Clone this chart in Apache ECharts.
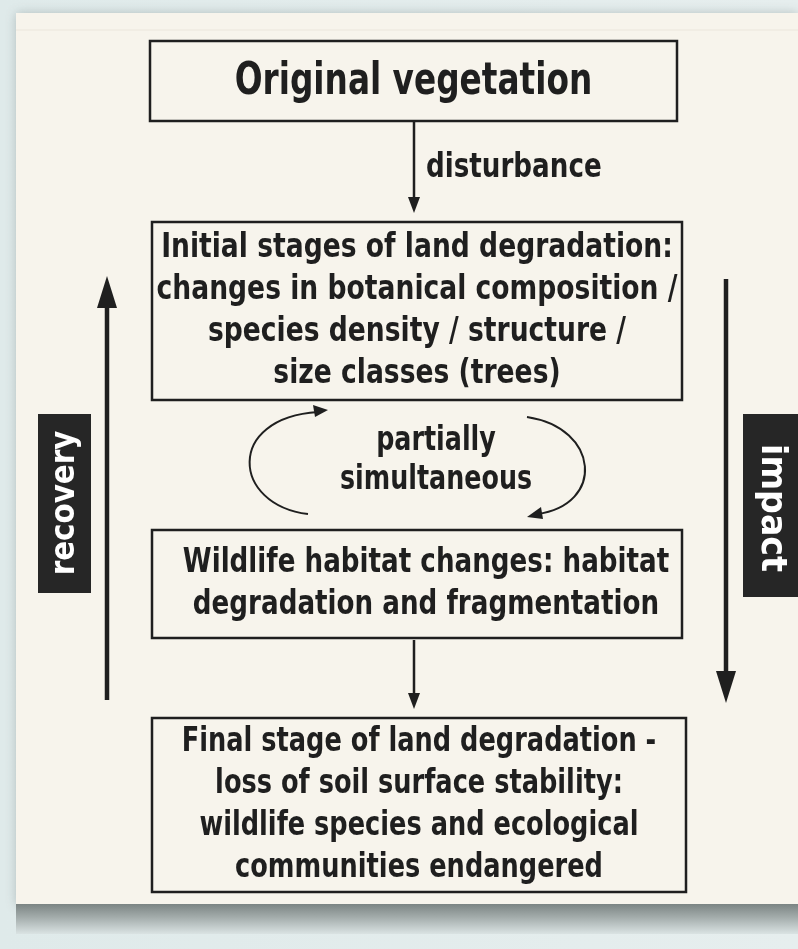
<!DOCTYPE html>
<html>
<head>
<meta charset="utf-8">
<script src="https://cdn.jsdelivr.net/npm/echarts@6/dist/echarts.min.js"></script>
<style>
html,body{margin:0;padding:0;background:#e4eded;}
#c{width:798px;height:949px;}
</style>
</head>
<body>
<div id="c"></div>
<script>
// ---- content ----
const boxTexts = [
  "Original vegetation",
  "Initial stages of land degradation:\nchanges in botanical composition /\nspecies density / structure /\nsize classes (trees)",
  "Wildlife habitat changes: habitat\ndegradation and fragmentation",
  "Final stage of land degradation -\nloss of soil surface stability:\nwildlife species and ecological\ncommunities endangered"
];
const arrowLabels = ["disturbance"];
const cycleLabel = "partially\nsimultaneous";
const sideLabels = ["recovery", "impact"];

// ---- layout ----
const FONT = '"Liberation Sans Narrow","DejaVu Sans Condensed","Roboto Condensed",sans-serif';
const INK = '#1f1f1f';
const PAPER = '#f7f4ec';
const boxRects = [
  {x:150, y:41, w:527, h:80, fs:40, lh:48, sx:0.91, sy:1.1, dx:0, dy:2},
  {x:152, y:222, w:530, h:178, fs:30, lh:37.5, sx:0.985, sy:1.12, dx:0, dy:0},
  {x:152, y:530, w:530, h:108, fs:30, lh:37.5, sx:0.97, sy:1.12, dx:9, dy:0},
  {x:152, y:718, w:534, h:174, fs:30, lh:37.5, sx:0.95, sy:1.12, dx:0, dy:0}
];

const chart = echarts.init(document.getElementById('c'), null, {renderer:'canvas'});
const g = [];

// background + paper
g.push({type:'rect', shape:{x:0,y:0,width:798,height:949},
  style:{fill:{type:'linear',x:0,y:0,x2:1,y2:0,colorStops:[{offset:0,color:'#dfeaea'},{offset:1,color:'#e6eeee'}]}}, z:0});
g.push({type:'rect', shape:{x:16,y:13,width:782,height:892},
  style:{fill:PAPER, shadowBlur:10, shadowColor:'rgba(120,135,135,0.45)', shadowOffsetX:0, shadowOffsetY:0}, z:1});
// bottom shadow
g.push({type:'rect', shape:{x:16,y:904,width:782,height:30},
  style:{fill:{type:'linear',x:0,y:0,x2:0,y2:1,colorStops:[{offset:0,color:'#7b8483'},{offset:0.45,color:'#a4adac'},{offset:1,color:'#dae3e3'}]}}, z:2});
// faint fold line near top
g.push({type:'line', shape:{x1:16,y1:30,x2:798,y2:30}, style:{stroke:'#ebe6dc',lineWidth:1}, z:2});

// boxes
boxTexts.forEach((t, i) => {
  const r = boxRects[i];
  g.push({type:'rect', shape:{x:r.x, y:r.y, width:r.w, height:r.h},
    style:{fill:PAPER, stroke:INK, lineWidth:2.5}, z:5});
  g.push({type:'text', x:r.x + r.w/2 + r.dx, y:r.y + r.h/2 + r.dy, scaleX:r.sx, scaleY:r.sy, z:6,
    style:{text:t, font:'bold '+r.fs+'px '+FONT, fill:INK, lineHeight:r.lh, align:'center', verticalAlign:'middle'}});
});

function arrowDown(x, y1, y2, lw, hw, hl) {
  g.push({type:'line', shape:{x1:x,y1:y1,x2:x,y2:y2-hl+2}, style:{stroke:INK,lineWidth:lw}, z:5});
  g.push({type:'polygon', shape:{points:[[x-hw,y2-hl],[x+hw,y2-hl],[x,y2]]}, style:{fill:INK}, z:5});
}
function arrowUp(x, y1, y2, lw, hw, hl) { // y1 bottom, y2 tip
  g.push({type:'line', shape:{x1:x,y1:y1,x2:x,y2:y2+hl-2}, style:{stroke:INK,lineWidth:lw}, z:5});
  g.push({type:'polygon', shape:{points:[[x-hw,y2+hl],[x+hw,y2+hl],[x,y2]]}, style:{fill:INK}, z:5});
}

// disturbance arrow
arrowDown(414, 122, 213, 2.5, 6, 16);
g.push({type:'text', x:426, y:168, scaleX:0.97, scaleY:1.1, z:6,
  style:{text:arrowLabels[0], font:'bold 30px '+FONT, fill:INK, align:'left', verticalAlign:'middle'}});
// wildlife -> final arrow
arrowDown(414, 640, 709, 2.5, 6, 16);

// recovery / impact arrows
arrowUp(107, 700, 276, 4.5, 10, 32);
arrowDown(726, 279, 703, 4.5, 10, 32);

// side labels
g.push({type:'rect', shape:{x:38,y:414,width:53,height:179}, style:{fill:'#262626'}, z:6});
g.push({type:'text', x:65, y:503, rotation:Math.PI/2, scaleX:1.02, scaleY:1.05, z:7,
  style:{text:sideLabels[0], font:'bold 32px '+FONT, fill:'#ffffff', align:'center', verticalAlign:'middle'}});
g.push({type:'rect', shape:{x:743,y:414,width:60,height:183}, style:{fill:'#262626'}, z:6});
g.push({type:'text', x:771, y:508, rotation:-Math.PI/2, scaleX:1.12, scaleY:1.05, z:7,
  style:{text:sideLabels[1], font:'bold 33px '+FONT, fill:'#ffffff', align:'center', verticalAlign:'middle'}});

// cycle arrows
g.push({type:'bezierCurve', shape:{x1:308,y1:514,cpx1:232,cpy1:505,cpx2:225,cpy2:418,x2:318,y2:412},
  style:{stroke:INK,lineWidth:2,fill:null}, z:5});
g.push({type:'polygon', shape:{points:[[328,410],[313,405],[315,417]]}, style:{fill:INK}, z:5});
g.push({type:'bezierCurve', shape:{x1:527,y1:417,cpx1:600,cpy1:428,cpx2:605,cpy2:505,x2:537,y2:514},
  style:{stroke:INK,lineWidth:2,fill:null}, z:5});
g.push({type:'polygon', shape:{points:[[527,517],[541,507],[543,519]]}, style:{fill:INK}, z:5});
g.push({type:'text', x:436, y:461, scaleX:0.94, scaleY:1.12, z:6,
  style:{text:cycleLabel, font:'bold 30px '+FONT, fill:INK, align:'center', verticalAlign:'middle', lineHeight:35}});

chart.setOption({animation:false, graphic:{elements:g}});
</script>
</body>
</html>
